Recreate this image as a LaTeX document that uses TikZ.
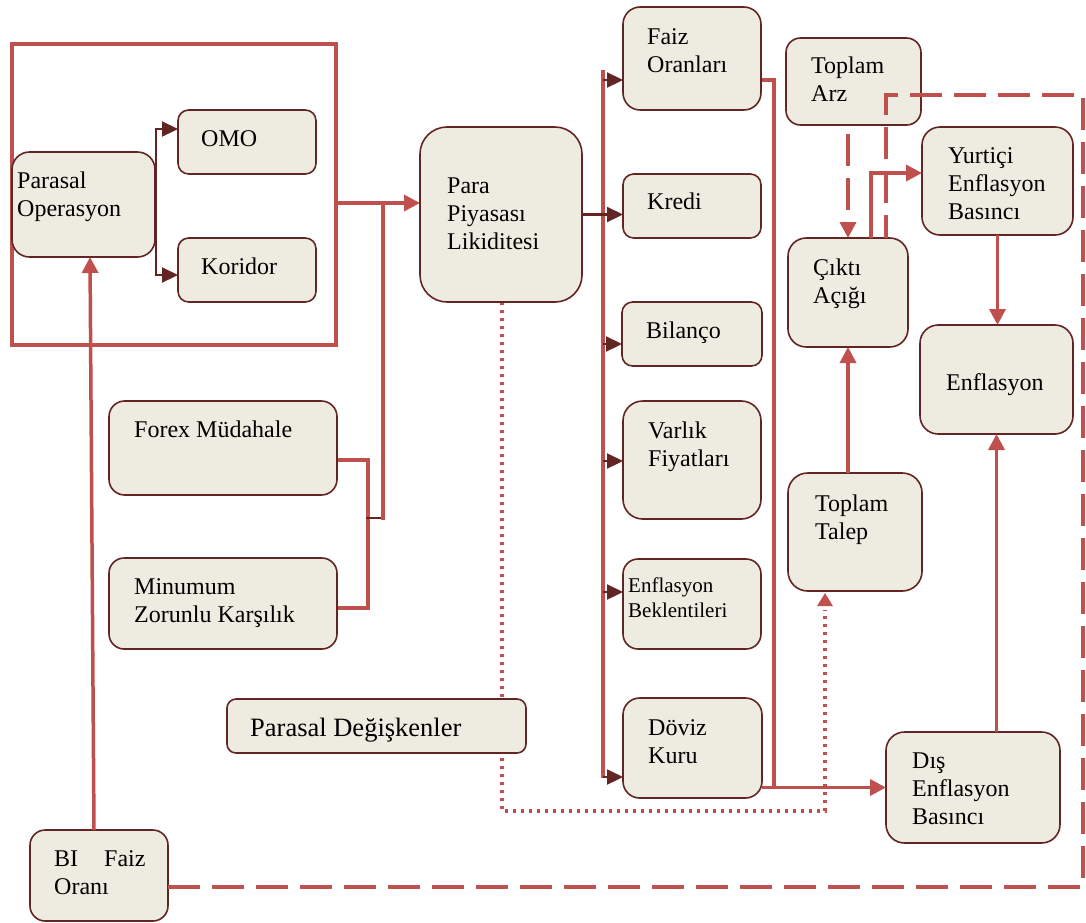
\documentclass[tikz,border=0pt]{standalone}
\usepackage{fontspec}
\setmainfont{Liberation Serif}
\usetikzlibrary{arrows.meta,calc}

\definecolor{boxfill}{HTML}{EEECE1}
\definecolor{boxline}{HTML}{632523}
\definecolor{linkred}{HTML}{C0504D}
\definecolor{linkdark}{HTML}{632523}

% left-aligned multi-line text whose baseline is that of its first line
\newcommand\mlines[1]{\begin{tabular}[t]{@{}l@{}}#1\end{tabular}}

% rounded box from its top-left (x1,y1) and bottom-right (x2,y2) corners
\newcommand\mybox[5]{%
  \pgfmathsetmacro\mbW{#4-#2}\pgfmathsetmacro\mbH{#5-#3}%
  \pgfmathsetmacro\mbR{min(\mbW,\mbH)/6}%
  \node[box, minimum width=\mbW pt, minimum height=\mbH pt,
        rounded corners=\mbR pt] (#1) at (#2,#3) {};}

\tikzset{
  box/.style={draw=boxline, fill=boxfill, line width=1.6pt,
              anchor=north west, inner sep=0pt, outer sep=0pt},
  txt/.style={anchor=base west, inner sep=0pt, font=\fontsize{24}{28}\selectfont},
  redline/.style={draw=linkred, line width=3.5pt},
  redtip/.style={-{Triangle[length=16pt,width=16pt]}},
  redarrow/.style={redline, redtip},
  darkarrow/.style={draw=linkdark, line width=2.2pt, -{Triangle[length=16pt,width=15pt]}},
  reddash/.style={redline, line width=3.6pt, dash pattern=on 32pt off 12pt},
  reddot/.style={redline, dash pattern=on 3pt off 5pt},
}

\begin{document}
\begin{tikzpicture}[x=1pt,y=-1pt]
\useasboundingbox (0,0) rectangle (1086,922);

% ---------- frame around the operational tools ----------
\node[draw=linkred, line width=3.5pt, minimum width=324pt, minimum height=301pt,
      anchor=north west, inner sep=0pt, outer sep=0pt] (frame) at (12,44) {};

% ---------- links drawn beneath the boxes ----------
% frame -> money market liquidity
\draw[redarrow] (frame.east |- 0,203) -- (420,203);
% forex / reserve requirement join
\coordinate (jfx) at (368,460);
\coordinate (jmz) at (368,608);
\draw[redline] (336,460) -- (jfx) -- (jmz) -- (336,608);
\draw[draw=linkdark, line width=2pt] (366.2,518) -- (384.8,518);
\draw[redline] (383,519.7) -- (383,203);

% BI rate -> monetary operation
\coordinate (bitop) at (94,830);
\coordinate (pobot) at (90,257);

% channel bus
\coordinate (bustop) at (603,70);
\coordinate (busbot) at (603,778);
\draw[redline] (bustop) -- (busbot);

% right collector
\coordinate (colltop) at (774,80);
\coordinate (collbot) at (774,788.7);
\draw[redline] (761,80) -- (colltop) -- (collbot);

% dotted path from liquidity to aggregate demand
\coordinate (dotc1) at (502,811);
\coordinate (dotc2) at (825,811);
\draw[reddot] (502,302) -- (dotc1) -- (dotc2) -- (825,610);
\draw[redline, line width=3pt, -{Triangle[length=13pt,width=15pt]}] (825,606) -- (825,593);

% ---------- boxes ----------
\mybox{po}{12}{152}{155}{257}
\mybox{omo}{178}{110}{316}{174}
\mybox{kor}{178}{238}{316}{302}
\mybox{ppl}{420}{127}{582}{302}
\mybox{fx}{109}{401}{337}{495}
\mybox{mz}{109}{558}{337}{649}
\mybox{pd}{227}{699}{526}{753}
\mybox{bi}{30}{830}{168}{921}
\mybox{fo}{623}{7}{761}{110}
\mybox{kr}{623}{174}{761}{238}
\mybox{bl}{622}{302}{762}{366}
\mybox{vf}{623}{401}{761}{519}
\mybox{eb}{623}{559}{761}{649}
\mybox{dk}{623}{698}{762}{798}
\mybox{ta}{786}{38}{921}{125}
\mybox{ck}{788}{238}{908}{347}
\mybox{yi}{922}{127}{1073}{235}
\mybox{en}{920}{325}{1073}{434}
\mybox{tt}{788}{473}{922}{591}
\mybox{dis}{886}{732}{1060}{843}

% ---------- connectors between boxes ----------
\draw[darkarrow] ($(po.east)+(1,0)$) |- (omo.west |- 0,129);
\draw[darkarrow] ($(po.east)+(1,0)$) |- (kor.west |- 0,275);
\draw[redarrow] (bi.north -| bitop) -- (po.south -| pobot);
\draw[darkarrow] (ppl.east) -- (ppl.east -| kr.west);
\draw[darkarrow] (603,80) -- (fo.west |- 0,80);
\draw[darkarrow] (603,344) -- (bl.west |- 0,344);
\draw[darkarrow] (603,461) -- (vf.west |- 0,461);
\draw[darkarrow] (603,592) -- (eb.west |- 0,592);
\draw[darkarrow] (603,777) -- (dk.west |- 0,777);
\draw[redarrow] (dk.east |- dis.west) -- (dis.west);
\draw[redarrow] (tt.north -| ck.south) -- (ck.south);
\draw[reddash, redtip] ($(ck.north |- ta.south)+(0,9)$) -- (ck.north);
\draw[redarrow] ($(ck.north)+(23,0)$) |- (yi.west |- 0,173);
\draw[redarrow] (yi.south) -- (yi.south |- en.north);
\draw[redarrow] (en.south |- dis.north) -- (en.south);

% long dashed loop from BI rate to output gap, passing over Toplam Arz
\coordinate (dl1) at (1083,887);
\coordinate (dl2) at (1083,95);
\coordinate (dl3) at (886,95);
\draw[reddash] (bi.east |- dl1) -- (dl1) -- (dl2) -- (dl3) -- ($(ck.north)+(38,0)$);

% ---------- texts ----------
\node[txt] (po-t)  at (17,188)  {\mlines{Parasal\\Operasyon}};
\node[txt] (omo-t) at (201,146) {OMO};
\node[txt] (kor-t) at (201,274) {Koridor};
\node[txt] (ppl-t) at (447,193) {\mlines{Para\\Piyasası\\Likiditesi}};
\node[txt] (fx-t)  at (134,437) {Forex Müdahale};
\node[txt] (mz-t)  at (134,594) {\mlines{Minumum\\Zorunlu Karşılık}};
\node[txt, font=\fontsize{26.5}{31}\selectfont] (pd-t) at (250,736) {Parasal Değişkenler};
\node[txt] (bi-t)  at (54,866)  {\mlines{BI\hspace{26pt}Faiz\\Oranı}};
\node[txt] (fo-t)  at (647,44)  {\mlines{Faiz\\Oranları}};
\node[txt] (kr-t)  at (647,209) {Kredi};
\node[txt] (bl-t)  at (646,338) {Bilanço};
\node[txt] (vf-t)  at (648,438) {\mlines{Varlık\\Fiyatları}};
\node[txt, font=\fontsize{21}{25}\selectfont] (eb-t) at (628,592) {\mlines{Enflasyon\\Beklentileri}};
\node[txt] (dk-t)  at (648,735) {\mlines{Döviz\\Kuru}};
\node[txt] (ta-t)  at (811,73)  {\mlines{Toplam\\Arz}};
\node[txt] (yi-t)  at (948,163) {\mlines{Yurtiçi\\Enflasyon\\Basıncı}};
\node[txt] (ck-t)  at (813,275) {\mlines{Çıktı\\Açığı}};
\node[txt] (tt-t)  at (815,511) {\mlines{Toplam\\Talep}};
\node[txt] (en-t)  at (946,390) {Enflasyon};
\node[txt] (dis-t) at (912,768) {\mlines{Dış\\Enflasyon\\Basıncı}};
\end{tikzpicture}
\end{document}
